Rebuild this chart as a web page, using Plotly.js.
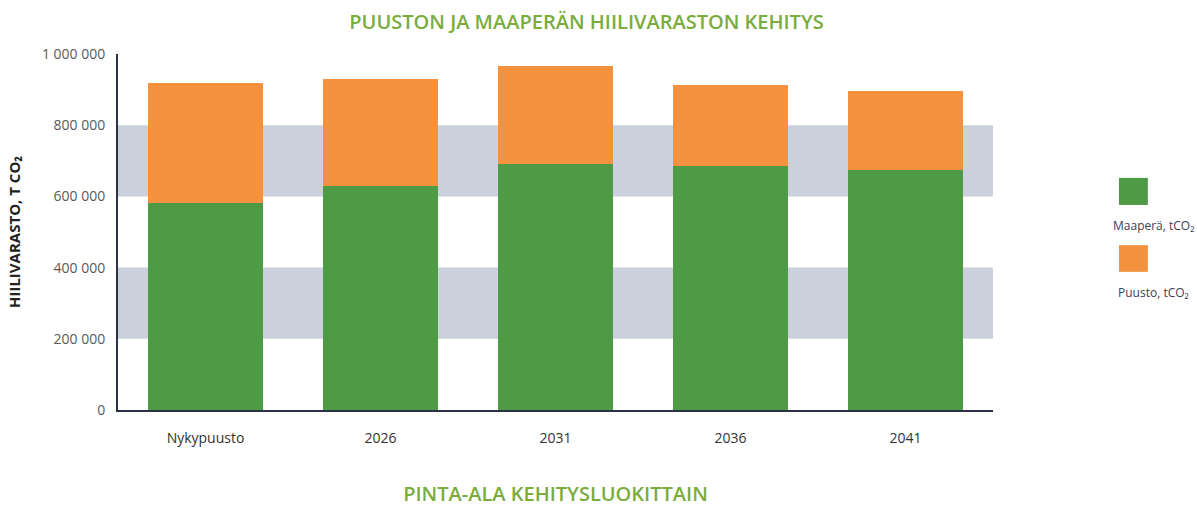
<!DOCTYPE html>
<html>
<head>
<meta charset="utf-8">
<script src="https://cdn.plot.ly/plotly-3.0.1.min.js"></script>
<style>html,body{margin:0;padding:0;background:#fff}#chart{width:1197px;height:507px}</style>
</head>
<body>
<div id="chart"></div>
<script>
const categories = ["Nykypuusto", "2026", "2031", "2036", "2041"];
const maapera = [581000, 630000, 692000, 685000, 675000];
const puusto = [337000, 300000, 275000, 228000, 222000];
const seriesNames = ["Maaperä, tCO₂", "Puusto, tCO₂"];
const yTickVals = [0, 200000, 400000, 600000, 800000, 1000000];
const yTickText = ["0", "200 000", "400 000", "600 000", "800 000", "1 000 000"];
const bands = [[200000, 400000], [600000, 800000]];

const green = "#4f9a45";
const orange = "#f4923f";
const colors = [green, orange];
const font = "'Open Sans', Lato, sans-serif";
const titleFont = "'Open Sans', sans-serif";

const traces = [
  {type: "bar", name: seriesNames[0], x: categories, y: maapera, marker: {color: green}, hoverinfo: "x+y"},
  {type: "bar", name: seriesNames[1], x: categories, y: puusto, marker: {color: orange}, hoverinfo: "x+y"}
];

const shapes = bands.map(b => ({
  type: "rect", xref: "paper", yref: "y", x0: 0, x1: 1, y0: b[0], y1: b[1],
  fillcolor: "#cbd0dd", line: {width: 0}, layer: "below"
}));
const annotations = [];
const sqY = [[0.576, 0.652], [0.388, 0.463]];
const txtY = [0.517, 0.331];
seriesNames.forEach((n, i) => {
  shapes.push({type: "rect", xref: "paper", yref: "paper", x0: 1.144, x1: 1.177,
    y0: sqY[i][0], y1: sqY[i][1], fillcolor: colors[i], line: {width: 0}});
  annotations.push({xref: "paper", yref: "paper", x: 1.183, y: txtY[i], text: n, showarrow: false,
    xanchor: "center", yanchor: "middle", font: {family: font, size: 12, color: "#3b4058"}});
});

const layout = {
  width: 1197, height: 507,
  margin: {l: 118, r: 204, t: 54, b: 97},
  paper_bgcolor: "#fff", plot_bgcolor: "rgba(0,0,0,0)",
  barmode: "stack", bargap: 0.34, showlegend: false,
  title: {text: "PUUSTON JA MAAPERÄN HIILIVARASTON KEHITYS", x: 0.49, xanchor: "center", y: 0.957, yanchor: "middle",
    font: {family: titleFont, size: 20, weight: 600, color: "#7aac3c"}},
  xaxis: {
    type: "category",
    showline: true, linecolor: "#2b3245", linewidth: 2, showgrid: false,
    ticks: "outside", ticklen: 14, tickcolor: "rgba(0,0,0,0)",
    tickfont: {family: font, size: 14, color: "#333"},
    title: {text: "PINTA-ALA KEHITYSLUOKITTAIN", standoff: 48,
      font: {family: titleFont, size: 20, weight: 600, color: "#7aac3c"}}
  },
  yaxis: {
    range: [0, 1000000], tickvals: yTickVals, ticktext: yTickText,
    showline: true, linecolor: "#2b3245", linewidth: 2, showgrid: false, zeroline: false,
    ticks: "outside", ticklen: 8, tickcolor: "rgba(0,0,0,0)",
    tickfont: {family: font, size: 14, color: "#5a5a5a"},
    title: {text: "<b>HIILIVARASTO, T CO₂</b>", standoff: 18,
      font: {family: font, size: 15, color: "#222"}}
  },
  shapes: shapes, annotations: annotations
};

Plotly.newPlot("chart", traces, layout, {displayModeBar: false, staticPlot: true});
</script>
</body>
</html>
